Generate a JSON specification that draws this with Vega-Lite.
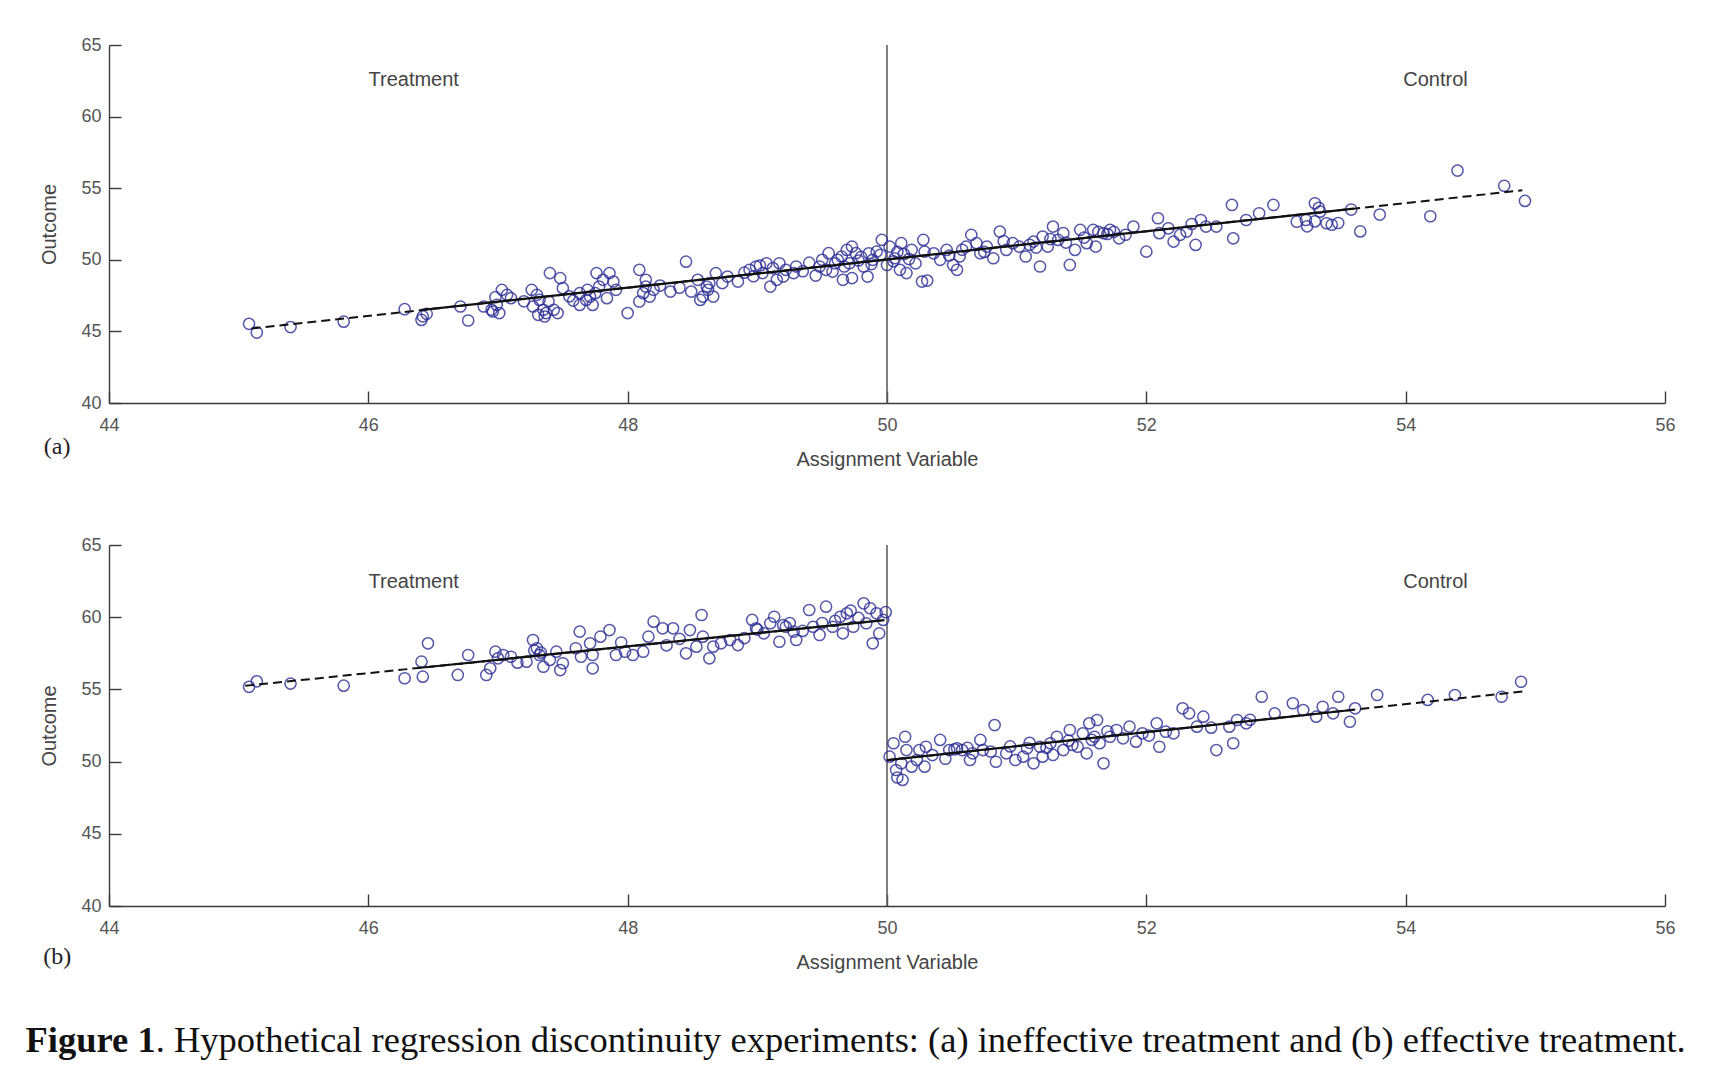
{
  "$schema": "https://vega.github.io/schema/vega-lite/v6.json",
  "background": "white",
  "padding": {"left": 25, "top": 36, "right": 5, "bottom": 5},
  "spacing": 67,
  "datasets": {
    "pa": [
      {"x":45.08,"y":45.53},{"x":45.14,"y":44.92},{"x":45.40,"y":45.30},{"x":45.81,"y":45.68},
      {"x":46.28,"y":46.55},{"x":46.41,"y":45.80},{"x":46.45,"y":46.23},{"x":46.42,"y":46.05},{"x":46.71,"y":46.74},{"x":46.77,"y":45.76},
      {"x":46.89,"y":46.74},{"x":46.95,"y":46.51},{"x":46.98,"y":47.39},{"x":47.03,"y":47.90},{"x":47.07,"y":47.55},{"x":47.10,"y":47.32},{"x":46.99,"y":46.85},{"x":47.01,"y":46.28},{"x":46.96,"y":46.39},
      {"x":47.26,"y":47.90},{"x":47.30,"y":47.55},{"x":47.32,"y":47.20},{"x":47.35,"y":46.51},{"x":47.27,"y":46.74},{"x":47.37,"y":46.28},{"x":47.43,"y":46.51},{"x":47.46,"y":46.28},{"x":47.40,"y":49.07},{"x":47.48,"y":48.72},{"x":47.50,"y":48.02},{"x":47.39,"y":47.09},{"x":47.31,"y":46.16},{"x":47.36,"y":46.04},
      {"x":47.55,"y":47.45},{"x":47.20,"y":47.10},{"x":47.58,"y":47.15},
      {"x":47.63,"y":47.67},{"x":47.68,"y":47.20},{"x":47.71,"y":47.43},{"x":47.73,"y":46.85},{"x":47.76,"y":49.07},{"x":47.78,"y":48.13},{"x":47.81,"y":48.60},{"x":47.86,"y":49.07},{"x":47.89,"y":48.48},{"x":47.91,"y":47.90},{"x":47.63,"y":46.85},{"x":47.69,"y":47.90},{"x":47.75,"y":47.67},{"x":47.84,"y":47.32},{"x":48.00,"y":46.28},
      {"x":48.09,"y":49.30},{"x":48.14,"y":48.60},{"x":48.12,"y":47.67},{"x":48.17,"y":47.43},{"x":48.09,"y":47.09},{"x":48.20,"y":47.90},{"x":48.14,"y":48.13},{"x":48.25,"y":48.20},{"x":48.40,"y":48.05},
      {"x":48.33,"y":47.78},{"x":48.45,"y":49.87},
      {"x":48.49,"y":47.78},{"x":48.54,"y":48.60},{"x":48.58,"y":47.43},{"x":48.62,"y":47.90},{"x":48.63,"y":48.37},{"x":48.66,"y":47.43},{"x":48.68,"y":49.07},{"x":48.73,"y":48.37},{"x":48.77,"y":48.83},{"x":48.85,"y":48.48},{"x":48.56,"y":47.20},{"x":48.61,"y":48.13},
      {"x":48.90,"y":49.10},{"x":48.97,"y":48.85},{"x":49.02,"y":49.60},{"x":49.35,"y":49.20},{"x":49.40,"y":49.80},{"x":49.45,"y":48.90},
      {"x":48.94,"y":49.30},{"x":48.99,"y":49.53},{"x":49.04,"y":49.07},{"x":49.07,"y":49.76},{"x":49.12,"y":49.42},{"x":49.17,"y":49.76},{"x":49.22,"y":49.30},{"x":49.28,"y":49.07},{"x":49.10,"y":48.13},{"x":49.15,"y":48.60},{"x":49.20,"y":48.83},{"x":49.30,"y":49.53},
      {"x":49.48,"y":49.53},{"x":49.50,"y":50.00},{"x":49.53,"y":49.30},{"x":49.55,"y":50.46},{"x":49.60,"y":49.76},{"x":49.65,"y":50.23},{"x":49.73,"y":50.92},{"x":49.73,"y":48.72},{"x":49.58,"y":49.18},{"x":49.67,"y":49.53},
      {"x":49.66,"y":48.60},{"x":49.69,"y":50.69},{"x":49.71,"y":49.76},{"x":49.76,"y":50.46},{"x":49.82,"y":49.53},{"x":49.85,"y":48.83},{"x":49.89,"y":50.00},{"x":49.92,"y":50.57},{"x":49.96,"y":51.39},{"x":50.00,"y":49.64},{"x":50.02,"y":50.92},{"x":50.06,"y":50.11},{"x":50.10,"y":49.30},{"x":50.11,"y":51.16},{"x":50.15,"y":49.07},{"x":50.19,"y":50.69},{"x":50.27,"y":48.48},{"x":50.31,"y":48.55},{"x":50.28,"y":51.39},{"x":50.29,"y":50.57},
      {"x":49.80,"y":50.20},{"x":49.95,"y":50.35},{"x":50.05,"y":49.90},{"x":49.88,"y":49.70},{"x":50.13,"y":50.40},
      {"x":49.62,"y":50.00},{"x":49.78,"y":49.95},{"x":49.86,"y":50.45},{"x":50.08,"y":50.55},{"x":50.17,"y":50.05},{"x":50.22,"y":49.75},{"x":50.36,"y":50.45},{"x":50.48,"y":50.30},{"x":50.58,"y":50.70},{"x":50.75,"y":50.55},
      {"x":50.41,"y":50.00},{"x":50.46,"y":50.69},{"x":50.51,"y":49.64},{"x":50.54,"y":49.30},{"x":50.56,"y":50.23},{"x":50.61,"y":50.92},{"x":50.65,"y":51.74},{"x":50.69,"y":51.16},{"x":50.72,"y":50.46},{"x":50.77,"y":50.92},{"x":50.82,"y":50.11},{"x":50.87,"y":51.97},{"x":50.92,"y":50.69},{"x":50.97,"y":51.16},{"x":51.02,"y":50.92},{"x":51.07,"y":50.23},{"x":51.13,"y":51.27},{"x":51.18,"y":49.53},{"x":51.20,"y":51.62},{"x":51.24,"y":50.92},{"x":51.28,"y":52.32},{"x":51.32,"y":51.39},{"x":51.36,"y":51.86},{"x":51.41,"y":49.64},{"x":51.45,"y":50.69},{"x":51.49,"y":52.09},{"x":51.54,"y":51.16},{"x":51.59,"y":52.09},{"x":51.61,"y":50.92},{"x":51.67,"y":51.86},{"x":51.72,"y":52.09},{"x":51.79,"y":51.50},{"x":51.90,"y":52.32},{"x":52.00,"y":50.57},
      {"x":50.90,"y":51.30},{"x":51.10,"y":51.05},{"x":51.15,"y":50.85},{"x":51.26,"y":51.45},{"x":51.38,"y":51.20},{"x":51.52,"y":51.55},{"x":51.84,"y":51.75},{"x":52.17,"y":52.20},{"x":52.35,"y":52.50},
      {"x":51.63,"y":51.95},{"x":51.70,"y":51.80},{"x":51.75,"y":51.95},
      {"x":52.09,"y":52.90},{"x":52.10,"y":51.86},{"x":52.21,"y":51.27},{"x":52.26,"y":51.74},{"x":52.31,"y":51.97},{"x":52.38,"y":51.04},{"x":52.42,"y":52.78},{"x":52.46,"y":52.32},{"x":52.54,"y":52.32},{"x":52.66,"y":53.83},{"x":52.67,"y":51.50},{"x":52.77,"y":52.78},{"x":52.87,"y":53.25},{"x":52.98,"y":53.83},{"x":53.16,"y":52.66},{"x":53.23,"y":52.78},{"x":53.30,"y":53.95},{"x":53.34,"y":53.36},{"x":53.39,"y":52.55},{"x":53.24,"y":52.34},{"x":53.33,"y":53.63},{"x":53.30,"y":52.68},
      {"x":53.43,"y":52.45},{"x":53.48,"y":52.57},{"x":53.58,"y":53.51},{"x":53.65,"y":51.98},{"x":53.80,"y":53.16},{"x":54.19,"y":53.04},{"x":54.40,"y":56.23},{"x":54.76,"y":55.17},{"x":54.92,"y":54.11}
    ],
    "pb": [
      {"x":45.08,"y":55.18},{"x":45.14,"y":55.56},{"x":45.40,"y":55.40},{"x":45.81,"y":55.26},
      {"x":46.28,"y":55.77},{"x":46.41,"y":56.92},{"x":46.42,"y":55.88},{"x":46.46,"y":58.19},{"x":46.69,"y":56.00},{"x":46.77,"y":57.38},{"x":46.91,"y":56.00},{"x":46.94,"y":56.46},{"x":46.98,"y":57.61},{"x":47.00,"y":57.15},{"x":47.04,"y":57.38},{"x":47.10,"y":57.26},{"x":47.22,"y":56.92},{"x":47.27,"y":58.42},{"x":47.30,"y":57.85},{"x":47.32,"y":57.38},{"x":47.35,"y":56.57},{"x":47.40,"y":57.04},{"x":47.45,"y":57.61},{"x":47.48,"y":56.34},{"x":47.50,"y":56.81},{"x":47.33,"y":57.55},{"x":47.28,"y":57.70},{"x":47.15,"y":56.85},
      {"x":47.63,"y":59.00},{"x":47.64,"y":57.26},{"x":47.71,"y":58.19},{"x":47.73,"y":56.46},{"x":47.73,"y":57.38},{"x":47.79,"y":58.65},{"x":47.86,"y":59.11},{"x":47.91,"y":57.38},{"x":47.98,"y":57.61},{"x":48.04,"y":57.38},{"x":48.12,"y":57.61},{"x":48.16,"y":58.65},{"x":48.20,"y":59.69},{"x":48.27,"y":59.23},{"x":48.35,"y":59.23},{"x":48.45,"y":57.50},{"x":48.48,"y":59.11},{"x":48.53,"y":57.96},{"x":48.57,"y":60.15},{"x":48.58,"y":58.65},{"x":48.63,"y":57.15},{"x":48.66,"y":57.96},{"x":48.72,"y":58.19},{"x":48.79,"y":58.42},{"x":48.85,"y":58.07},
      {"x":47.60,"y":57.85},{"x":47.95,"y":58.25},{"x":48.30,"y":58.05},{"x":48.40,"y":58.50},{"x":48.90,"y":58.55},{"x":49.00,"y":59.15},{"x":49.35,"y":59.05},{"x":49.50,"y":59.60},{"x":49.60,"y":59.75},{"x":49.78,"y":59.95},{"x":49.72,"y":60.45},{"x":49.99,"y":60.35},
      {"x":48.96,"y":59.81},{"x":48.99,"y":59.23},{"x":49.05,"y":58.88},{"x":49.10,"y":59.58},{"x":49.13,"y":60.03},{"x":49.17,"y":58.30},{"x":49.22,"y":59.34},{"x":49.28,"y":59.00},{"x":49.30,"y":58.42},{"x":49.20,"y":59.45},{"x":49.25,"y":59.60},{"x":49.40,"y":60.50},{"x":49.43,"y":59.34},{"x":49.48,"y":58.77},{"x":49.53,"y":60.73},{"x":49.58,"y":59.34},{"x":49.64,"y":60.03},{"x":49.69,"y":60.27},{"x":49.66,"y":58.88},{"x":49.74,"y":59.34},{"x":49.82,"y":60.96},{"x":49.84,"y":59.58},{"x":49.87,"y":60.62},{"x":49.89,"y":58.19},{"x":49.92,"y":60.27},{"x":49.94,"y":58.88},{"x":49.97,"y":59.81},
      {"x":50.02,"y":50.34},{"x":50.05,"y":51.27},{"x":50.07,"y":49.42},{"x":50.08,"y":48.90},{"x":50.11,"y":49.88},{"x":50.12,"y":48.73},{"x":50.14,"y":51.72},{"x":50.15,"y":50.80},{"x":50.19,"y":49.65},{"x":50.23,"y":50.11},{"x":50.25,"y":50.80},{"x":50.29,"y":49.65},{"x":50.30,"y":51.03},{"x":50.41,"y":51.50},{"x":50.48,"y":50.80},{"x":50.54,"y":50.92},{"x":50.52,"y":50.85},{"x":50.58,"y":50.80},{"x":50.64,"y":50.11},{"x":50.66,"y":50.57},{"x":50.72,"y":51.50},{"x":50.74,"y":50.80},{"x":50.83,"y":52.53},{"x":50.84,"y":49.99},{"x":50.92,"y":50.57},{"x":50.99,"y":50.11},{"x":51.05,"y":50.34},{"x":51.08,"y":50.92},{"x":51.13,"y":49.88},{"x":51.18,"y":51.03},{"x":51.20,"y":50.34},{"x":51.26,"y":51.27},{"x":51.28,"y":50.46},{"x":51.31,"y":51.72},{"x":51.36,"y":50.80},{"x":51.41,"y":52.19},{"x":51.43,"y":51.15},{"x":51.47,"y":51.03},{"x":51.51,"y":51.96},{"x":51.54,"y":50.57},{"x":51.56,"y":52.65},{"x":51.60,"y":51.72},{"x":51.62,"y":52.88},{"x":51.64,"y":51.27},{"x":51.67,"y":49.88},{"x":51.72,"y":51.72},{"x":51.77,"y":52.19},{"x":51.82,"y":51.61},{"x":51.87,"y":52.42},{"x":51.92,"y":51.38},{"x":51.97,"y":51.96},
      {"x":50.35,"y":50.45},{"x":50.45,"y":50.20},{"x":50.62,"y":50.95},{"x":50.80,"y":50.70},{"x":50.95,"y":51.05},{"x":51.10,"y":51.30},{"x":51.23,"y":50.95},{"x":51.40,"y":51.45},{"x":51.58,"y":51.50},{"x":51.70,"y":52.10},{"x":52.02,"y":51.80},{"x":52.50,"y":52.35},{"x":52.80,"y":52.90},
      {"x":52.08,"y":52.65},{"x":52.10,"y":51.03},{"x":52.15,"y":52.07},{"x":52.21,"y":51.96},{"x":52.28,"y":53.69},{"x":52.33,"y":53.34},{"x":52.39,"y":52.42},{"x":52.44,"y":53.11},{"x":52.54,"y":50.80},{"x":52.64,"y":52.42},{"x":52.67,"y":51.27},{"x":52.70,"y":52.88},{"x":52.77,"y":52.65},{"x":52.89,"y":54.49},{"x":52.99,"y":53.34},{"x":53.13,"y":54.04},{"x":53.21,"y":53.57},{"x":53.31,"y":53.11},{"x":53.36,"y":53.80},{"x":53.44,"y":53.34},{"x":53.48,"y":54.49},{"x":53.57,"y":52.76},{"x":53.61,"y":53.69},
      {"x":53.78,"y":54.61},{"x":54.17,"y":54.27},{"x":54.38,"y":54.61},{"x":54.74,"y":54.49},{"x":54.89,"y":55.53}
    ],
    "la": [
      {"seg":"a","part":"dashed","x":45.1,"y":45.2},{"seg":"a","part":"dashed","x":54.9,"y":54.85},
      {"seg":"a","part":"solid","x":46.4,"y":46.48},{"seg":"a","part":"solid","x":53.6,"y":53.57}
    ],
    "lb": [
      {"seg":"t","part":"dashed","x":45.05,"y":55.25},{"seg":"t","part":"dashed","x":49.98,"y":59.8},
      {"seg":"t","part":"solid","x":46.4,"y":56.5},{"seg":"t","part":"solid","x":49.98,"y":59.8},
      {"seg":"c","part":"dashed","x":50.0,"y":50.1},{"seg":"c","part":"dashed","x":54.9,"y":54.85},
      {"seg":"c","part":"solid","x":50.0,"y":50.1},{"seg":"c","part":"solid","x":53.6,"y":53.59}
    ],
    "cut": [{"x":50,"y":40,"y2":65}],
    "na": [{"x":46.35,"y":62.55,"t":"Treatment"},{"x":54.23,"y":62.55,"t":"Control"}],
    "nb": [{"x":46.35,"y":62.45,"t":"Treatment"},{"x":54.23,"y":62.45,"t":"Control"}],
    "taga": [{"x":43.6,"y":36.95,"t":"(a)"}],
    "tagb": [{"x":43.6,"y":36.47,"t":"(b)"}],
    "cap1": [{"x":44.36,"y":29.87,"t":"Figure 1"}],
    "cap2": [{"x":44.36,"y":29.87,"t":". Hypothetical regression discontinuity experiments: (a) ineffective treatment and (b) effective treatment."}]
  },
  "config": {
    "view": {"stroke": null},
    "axis": {
      "grid": false, "domainColor": "#3a3a3a", "domainWidth": 1.4, "tickColor": "#3a3a3a", "tickWidth": 1.4, "tickSize": -12,
      "labelFont": "Liberation Sans", "labelFontSize": 18, "labelColor": "#555555", "labelFlush": false, "labelOverlap": false,
      "titleFont": "Liberation Sans", "titleFontSize": 20, "titleFontWeight": "normal", "titleColor": "#444444"
    },
    "axisX": {"tickCount": 6, "labelPadding": 25, "titlePadding": 15},
    "axisY": {"tickCount": 5, "labelPadding": 20, "titlePadding": 21}
  },
  "vconcat": [
    {
      "width": 1556, "height": 358,
      "encoding": {
        "x": {"field": "x", "type": "quantitative", "scale": {"domain": [44, 56]}, "title": "Assignment Variable"},
        "y": {"field": "y", "type": "quantitative", "scale": {"domain": [40, 65]}, "title": "Outcome"}
      },
      "layer": [
        {"data": {"name": "cut"}, "mark": {"type": "rule", "color": "#606060", "strokeWidth": 1.6}, "encoding": {"y2": {"field": "y2"}}},
        {"data": {"name": "pa"}, "mark": {"type": "point", "shape": "circle", "filled": false, "size": 125, "strokeWidth": 1.5, "color": "#2d2d95", "opacity": 0.8}},
        {"data": {"name": "la"}, "transform": [{"filter": "datum.part == 'dashed'"}], "mark": {"type": "line", "color": "#111111", "strokeWidth": 2, "strokeDash": [9, 5]}, "encoding": {"detail": {"field": "seg"}}},
        {"data": {"name": "la"}, "transform": [{"filter": "datum.part == 'solid'"}], "mark": {"type": "line", "color": "#111111", "strokeWidth": 2.2}, "encoding": {"detail": {"field": "seg"}}},
        {"data": {"name": "na"}, "mark": {"type": "text", "font": "Liberation Sans", "fontSize": 20, "color": "#444444", "baseline": "middle"}, "encoding": {"text": {"field": "t"}}},
        {"data": {"name": "taga"}, "mark": {"type": "text", "font": "Liberation Serif", "fontSize": 24, "color": "#222222", "baseline": "middle"}, "encoding": {"text": {"field": "t"}}}
      ]
    },
    {
      "width": 1556, "height": 361,
      "encoding": {
        "x": {"field": "x", "type": "quantitative", "scale": {"domain": [44, 56]}, "title": "Assignment Variable"},
        "y": {"field": "y", "type": "quantitative", "scale": {"domain": [40, 65]}, "title": "Outcome"}
      },
      "layer": [
        {"data": {"name": "cut"}, "mark": {"type": "rule", "color": "#606060", "strokeWidth": 1.6}, "encoding": {"y2": {"field": "y2"}}},
        {"data": {"name": "pb"}, "mark": {"type": "point", "shape": "circle", "filled": false, "size": 125, "strokeWidth": 1.5, "color": "#2d2d95", "opacity": 0.8}},
        {"data": {"name": "lb"}, "transform": [{"filter": "datum.part == 'dashed'"}], "mark": {"type": "line", "color": "#111111", "strokeWidth": 2, "strokeDash": [9, 5]}, "encoding": {"detail": {"field": "seg"}}},
        {"data": {"name": "lb"}, "transform": [{"filter": "datum.part == 'solid'"}], "mark": {"type": "line", "color": "#111111", "strokeWidth": 2.2}, "encoding": {"detail": {"field": "seg"}}},
        {"data": {"name": "nb"}, "mark": {"type": "text", "font": "Liberation Sans", "fontSize": 20, "color": "#444444", "baseline": "middle"}, "encoding": {"text": {"field": "t"}}},
        {"data": {"name": "tagb"}, "mark": {"type": "text", "font": "Liberation Serif", "fontSize": 24, "color": "#222222", "baseline": "middle"}, "encoding": {"text": {"field": "t"}}},
        {"data": {"name": "cap1"}, "mark": {"type": "text", "font": "Liberation Serif", "fontSize": 36.5, "fontWeight": "bold", "color": "#111111", "align": "right", "baseline": "alphabetic"}, "encoding": {"text": {"field": "t"}}},
        {"data": {"name": "cap2"}, "mark": {"type": "text", "font": "Liberation Serif", "fontSize": 36.5, "color": "#111111", "align": "left", "baseline": "alphabetic"}, "encoding": {"text": {"field": "t"}}}
      ]
    }
  ]
}
